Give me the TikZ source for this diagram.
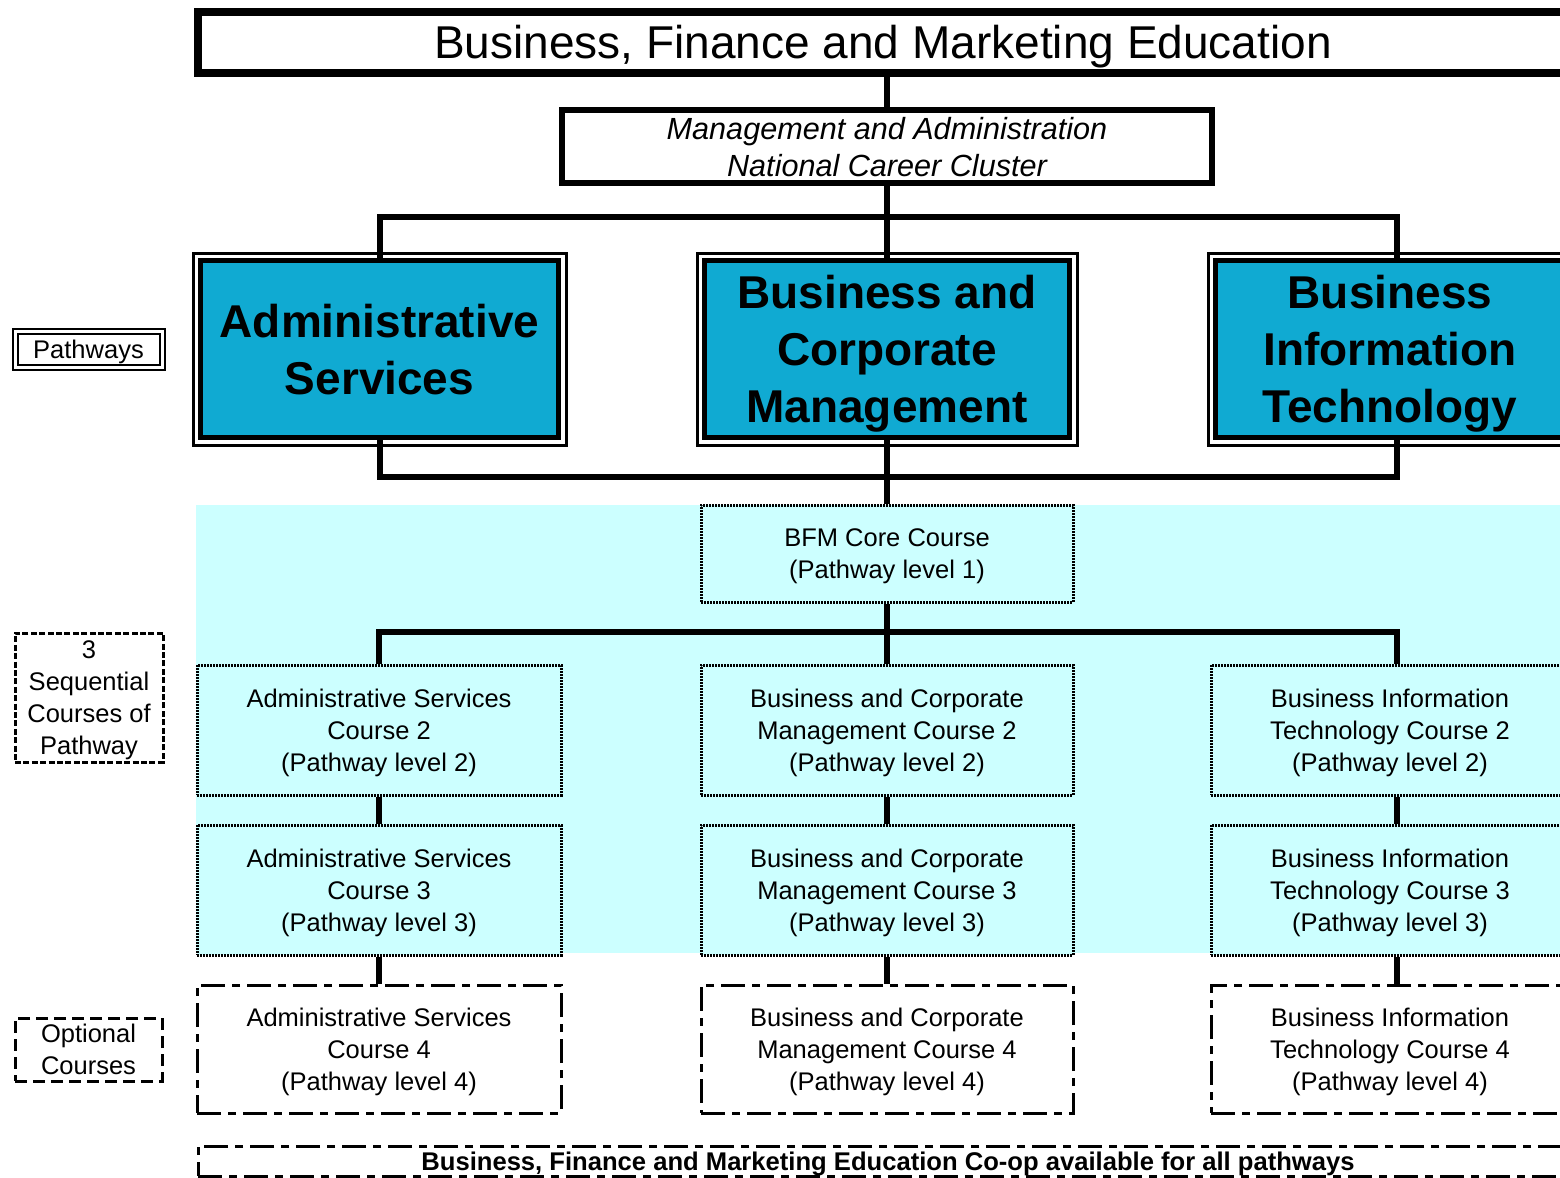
\documentclass[tikz,border=0pt]{standalone}
\usepackage{fontspec}
\setmainfont{Liberation Sans}
\usetikzlibrary{calc}
\definecolor{pathblue}{RGB}{16,170,210}
\definecolor{bandcyan}{RGB}{204,255,255}
\begin{document}
\begin{tikzpicture}[x=0.5pt,y=-0.5pt,
  every node/.style={text depth=0pt},
  conn/.style={line width=3pt},
  pathbox/.style={draw, line width=2.5pt, fill=pathblue, align=center, inner sep=0pt,
    font=\bfseries\fontsize{23}{28.5}\selectfont, minimum height=88.5pt},
  coursebox/.style={draw, line width=1.5pt, dash pattern=on 1pt off 0.5pt, fill=bandcyan,
    align=center, inner sep=0pt, font=\fontsize{12.75}{16}\selectfont, minimum height=65pt},
  optbox/.style={draw, line width=1.5pt, dash pattern=on 12pt off 3.5pt on 4pt off 3.5pt,
    fill=white, align=center, inner sep=0pt, font=\fontsize{12.75}{16}\selectfont, minimum height=64pt},
  labelbox/.style={draw, line width=1.5pt, align=center, inner sep=0pt, font=\fontsize{12.75}{16}\selectfont}
]
\useasboundingbox (0,0) rectangle (1560,1178);
\clip (0,0) rectangle (1560,1178);

% light cyan band
\fill[bandcyan] (196,505) rectangle (1560,953);

% title and cluster
\node[draw, line width=4pt, minimum width=685pt, minimum height=30.75pt, inner sep=0pt,
  font=\fontsize{23}{28}\selectfont] (title) at (883,42.25) {Business, Finance and Marketing Education};
\node[draw, line width=3pt, minimum width=325pt, minimum height=36.5pt, inner sep=0pt, align=center,
  font=\itshape\fontsize{15.3}{18.5}\selectfont] (cluster) at (887,146.5) {Management and Administration\\National Career Cluster};

% pathways
\node[pathbox, minimum width=179pt] (as) at (379.5,349) {Administrative\\Services};
\node[pathbox, minimum width=182.5pt] (bcm) at (887,349) {Business and\\Corporate\\Management};
\node[pathbox, minimum width=174.5pt] (bit) at (1390,349) {Business\\Information\\Technology};
\foreach \n in {as,bcm,bit}
  \draw[line width=1.5pt] ([shift={(-5,-5)}]\n.north west) rectangle ([shift={(5,5)}]\n.south east);

% core
\node[coursebox, minimum width=186pt, minimum height=48.5pt] (core) at (887,553.5) {BFM Core Course\\(Pathway level 1)};

% level 2
\node[coursebox, minimum width=182pt] (a2) at (379,730) {Administrative Services\\Course 2\\(Pathway level 2)};
\node[coursebox, minimum width=186pt] (b2) at (887,730) {Business and Corporate\\Management Course 2\\(Pathway level 2)};
\node[coursebox, minimum width=179pt] (c2) at (1390,730) {Business Information\\Technology Course 2\\(Pathway level 2)};
% level 3
\node[coursebox, minimum width=182pt] (a3) at (379,890) {Administrative Services\\Course 3\\(Pathway level 3)};
\node[coursebox, minimum width=186pt] (b3) at (887,890) {Business and Corporate\\Management Course 3\\(Pathway level 3)};
\node[coursebox, minimum width=179pt] (c3) at (1390,890) {Business Information\\Technology Course 3\\(Pathway level 3)};
% level 4
\node[optbox, minimum width=182pt] (a4) at (379,1049) {Administrative Services\\Course 4\\(Pathway level 4)};
\node[optbox, minimum width=186pt] (b4) at (887,1049) {Business and Corporate\\Management Course 4\\(Pathway level 4)};
\node[optbox, minimum width=179pt] (c4) at (1390,1049) {Business Information\\Technology Course 4\\(Pathway level 4)};

% co-op
\node[optbox, minimum width=690pt, minimum height=15pt, font=\bfseries\fontsize{12.8}{14}\selectfont] (coop) at (888,1161)
  {Business, Finance and Marketing Education Co-op available for all pathways};

% left labels
\node[labelbox, double, double distance=1.5pt, line width=1pt, minimum width=73.5pt, minimum height=18pt] (lp) at (88.5,349) {Pathways};
\node[labelbox, dash pattern=on 3pt off 1.2pt, minimum width=74pt, minimum height=64.5pt] (lseq) at (89,697.5) {3\\Sequential\\Courses of\\Pathway};
\node[labelbox, dash pattern=on 6pt off 3pt, minimum width=73.5pt, minimum height=31.5pt] (lopt) at (88.5,1049.5) {Optional\\Courses};

% connectors
\draw[conn] (cluster.north |- title.south) -- (cluster.north);
\draw[conn] (cluster.south) -- (bcm.north);
\draw[conn] (as.north) -- ++(0,-41.5) -| ([xshift=3.5pt]bit.north);
\draw[conn] (as.south) -- ++(0,36.5) -| ([xshift=3.5pt]bit.south);
\draw[conn] (bcm.south) -- (core.north);
\draw[conn] (core.south) -- (b2.north);
\draw[conn] (a2.north) -- ++(0,-32) -| ([xshift=3.5pt]c2.north);
\draw[conn] (a2.south) -- (a3.north);
\draw[conn] (a3.south) -- (a4.north);
\draw[conn] (b2.south) -- (b3.north);
\draw[conn] (b3.south) -- (b4.north);
\draw[conn] ([xshift=3.5pt]c2.south) -- ([xshift=3.5pt]c3.north);
\draw[conn] ([xshift=3.5pt]c3.south) -- ([xshift=3.5pt]c4.north);
\end{tikzpicture}
\end{document}
